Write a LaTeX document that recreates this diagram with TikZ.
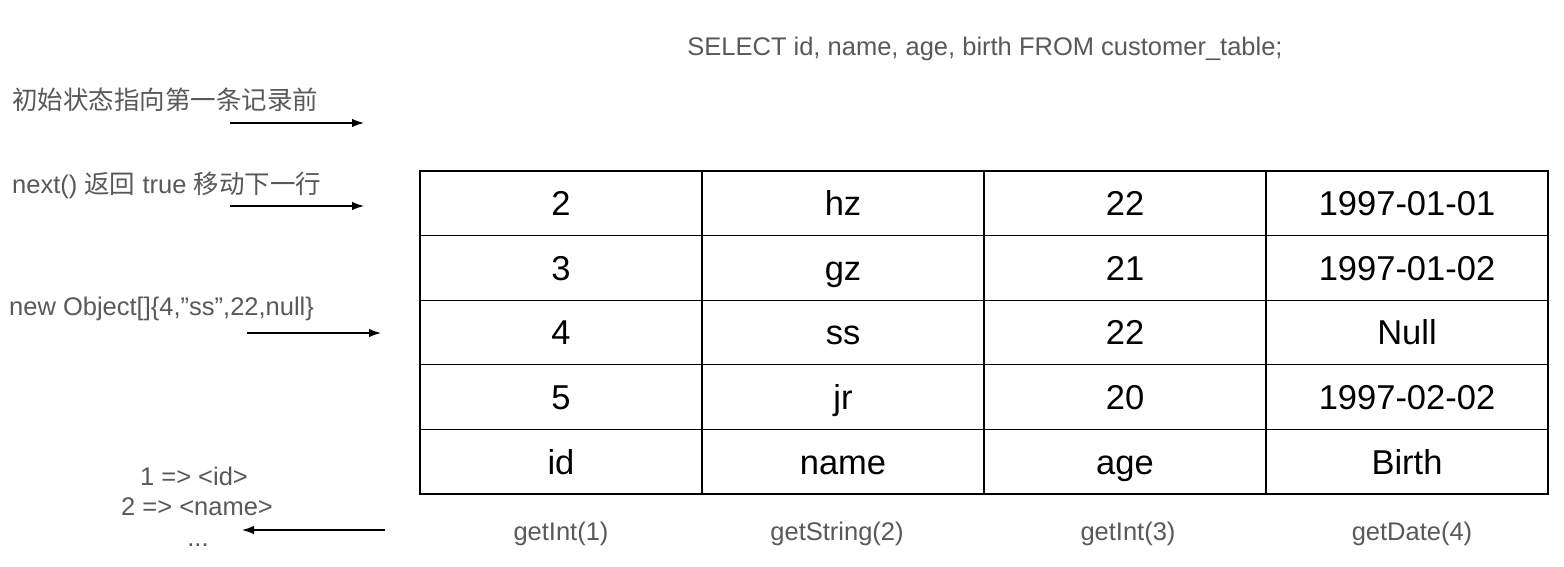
\documentclass[tikz,border=0pt]{standalone}
\usepackage{fontspec}
\setmainfont{Liberation Sans}
\newfontfamily\cjk{Noto Sans CJK SC}
\usetikzlibrary{arrows.meta}
\definecolor{txtgray}{HTML}{595959}
\tikzset{
  cell/.style={draw=black, line width=1.2pt, minimum width=282pt, minimum height=64.6pt, inner sep=0pt, font=\fontsize{34.5}{40}\selectfont, text=black, text height=24.7pt, text depth=0pt},
  note/.style={font=\fontsize{25.5}{30}\selectfont, text=txtgray, inner sep=0pt, text height=18.3pt, text depth=0pt},
  ptr/.style={line width=1.3pt, -{Latex[length=12pt,width=8.5pt]}}
}
\begin{document}
\begin{tikzpicture}[x=1pt,y=-1pt]
\useasboundingbox (0,0) rectangle (1564,566);
\fill[white] (0,0) rectangle (1564,566);
% title
\node[note] (sql) at (985,46) {SELECT id, name, age, birth FROM customer\_table;};
% left notes
\node[note, anchor=west] (n1) at (12,100) {\cjk 初始状态指向第一条记录前};
\node[note, anchor=west] (n2) at (12,184) {next() {\cjk 返回} true {\cjk 移动下一行}};
\node[note, anchor=west] (n3) at (9,306) {new Object[]\{4,”ss”,22,null\}};
\node[note] (m1) at (194,476) {1 => <id>};
\node[note] (m2) at (197,506) {2 => <name>};
\node[note] (m3) at (198,537) {...};
% arrows
\coordinate (a1s) at (230,123); \coordinate (a1e) at (364,123);
\coordinate (a2s) at (230,206); \coordinate (a2e) at (364,206);
\coordinate (a3s) at (247,333); \coordinate (a3e) at (381,333);
\coordinate (a4s) at (385,530); \coordinate (a4e) at (242,530);
\draw[ptr] (a1s) -- (a1e);
\draw[ptr] (a2s) -- (a2e);
\draw[ptr] (a3s) -- (a3e);
\draw[ptr] (a4s) -- (a4e);
% table
\node[cell] (c11) at (561,203.3) {2};
\node[cell] (c12) at (843,203.3) {hz};
\node[cell] (c13) at (1125,203.3) {22};
\node[cell] (c14) at (1407,203.3) {1997-01-01};
\node[cell] (c21) at (561,267.9) {3};
\node[cell] (c22) at (843,267.9) {gz};
\node[cell] (c23) at (1125,267.9) {21};
\node[cell] (c24) at (1407,267.9) {1997-01-02};
\node[cell] (c31) at (561,332.5) {4};
\node[cell] (c32) at (843,332.5) {ss};
\node[cell] (c33) at (1125,332.5) {22};
\node[cell] (c34) at (1407,332.5) {Null};
\node[cell] (c41) at (561,397.1) {5};
\node[cell] (c42) at (843,397.1) {jr};
\node[cell] (c43) at (1125,397.1) {20};
\node[cell] (c44) at (1407,397.1) {1997-02-02};
\node[cell] (c51) at (561,461.7) {id};
\node[cell] (c52) at (843,461.7) {name};
\node[cell] (c53) at (1125,461.7) {age};
\node[cell] (c54) at (1407,461.7) {Birth};
% getters
\node[note] (g1) at (561,531) {getInt(1)};
\node[note] (g2) at (837,531) {getString(2)};
\node[note] (g3) at (1128,531) {getInt(3)};
\node[note] (g4) at (1412,531) {getDate(4)};
\end{tikzpicture}
\end{document}
